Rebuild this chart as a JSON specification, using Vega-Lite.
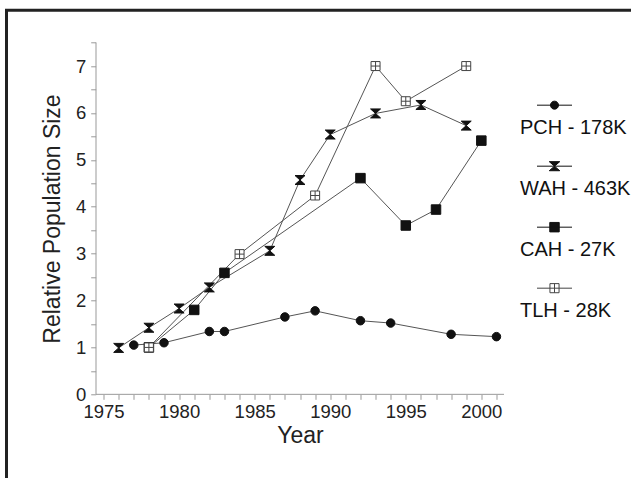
{
  "$schema": "https://vega.github.io/schema/vega-lite/v6.json",
  "width": 639.5,
  "height": 482.7,
  "autosize": {"type": "none"},
  "padding": {"left": 6.5, "top": 10.3, "right": -15, "bottom": -15},
  "background": "white",
  "config": {"view": {"stroke": "#222", "strokeWidth": 3}, "font": "Liberation Sans", "axis": {"labelOverlap": false, "labelFlush": false}},
  "datasets": {
    "axisrow": [{"k": 1}],
    "pop": [
      {"series": "PCH - 178K", "year": 1977, "value": 1.05},
      {"series": "PCH - 178K", "year": 1979, "value": 1.10},
      {"series": "PCH - 178K", "year": 1982, "value": 1.34},
      {"series": "PCH - 178K", "year": 1983, "value": 1.34},
      {"series": "PCH - 178K", "year": 1987, "value": 1.65},
      {"series": "PCH - 178K", "year": 1989, "value": 1.78},
      {"series": "PCH - 178K", "year": 1992, "value": 1.57},
      {"series": "PCH - 178K", "year": 1994, "value": 1.52},
      {"series": "PCH - 178K", "year": 1998, "value": 1.28},
      {"series": "PCH - 178K", "year": 2001, "value": 1.23},
      {"series": "WAH - 463K", "year": 1976, "value": 0.99},
      {"series": "WAH - 463K", "year": 1978, "value": 1.42},
      {"series": "WAH - 463K", "year": 1980, "value": 1.83},
      {"series": "WAH - 463K", "year": 1982, "value": 2.28},
      {"series": "WAH - 463K", "year": 1986, "value": 3.06},
      {"series": "WAH - 463K", "year": 1988, "value": 4.57},
      {"series": "WAH - 463K", "year": 1990, "value": 5.54},
      {"series": "WAH - 463K", "year": 1993, "value": 5.99},
      {"series": "WAH - 463K", "year": 1996, "value": 6.17},
      {"series": "WAH - 463K", "year": 1999, "value": 5.73},
      {"series": "CAH - 27K", "year": 1978, "value": 1.0},
      {"series": "CAH - 27K", "year": 1981, "value": 1.80},
      {"series": "CAH - 27K", "year": 1983, "value": 2.59},
      {"series": "CAH - 27K", "year": 1992, "value": 4.61},
      {"series": "CAH - 27K", "year": 1995, "value": 3.60},
      {"series": "CAH - 27K", "year": 1997, "value": 3.94},
      {"series": "CAH - 27K", "year": 2000, "value": 5.41},
      {"series": "TLH - 28K", "year": 1978, "value": 1.0},
      {"series": "TLH - 28K", "year": 1984, "value": 2.99},
      {"series": "TLH - 28K", "year": 1989, "value": 4.24},
      {"series": "TLH - 28K", "year": 1993, "value": 7.0},
      {"series": "TLH - 28K", "year": 1995, "value": 6.25},
      {"series": "TLH - 28K", "year": 1999, "value": 7.0}
    ]
  },
  "layer": [
    {
      "data": {"name": "axisrow"},
      "mark": {"type": "rule", "color": "#999", "strokeWidth": 1},
      "encoding": {
        "x": {
          "datum": 1974.5, "type": "quantitative",
          "scale": {"domain": [1968.577, 2010.897], "nice": false, "zero": false},
          "axis": {
            "title": "Year",
            "values": [1975,1976,1977,1978,1979,1980,1981,1982,1983,1984,1985,1986,1987,1988,1989,1990,1991,1992,1993,1994,1995,1996,1997,1998,1999,2000,2001],
            "format": "d",
            "labelExpr": "datum.value % 5 === 0 ? datum.label : ''",
            "offset": -98.7,
            "domain": false, "grid": false,
            "tickSize": 5, "tickColor": "#999", "tickWidth": 1,
            "labelFontSize": 18.5, "labelColor": "#222", "labelPadding": 3,
            "labelOverlap": false, "labelFlush": false,
            "titleFontSize": 23, "titleFontWeight": "normal", "titleColor": "#222",
            "titleX": 293.5, "titleY": 48, "titleBaseline": "alphabetic"
          }
        },
        "x2": {"datum": 2001.5},
        "y": {
          "datum": 0, "type": "quantitative",
          "scale": {"domain": [-2.104, 8.189], "nice": false, "zero": false},
          "axis": {
            "title": "Relative Population Size",
            "values": [0,0.5,1,1.5,2,2.5,3,3.5,4,4.5,5,5.5,6,6.5,7,7.5],
            "format": ".1f",
            "labelExpr": "datum.value % 1 === 0 ? format(datum.value, 'd') : ''",
            "offset": -89.2,
            "domain": false, "grid": false,
            "tickSize": 5, "tickColor": "#999", "tickWidth": 1,
            "labelFontSize": 18.5, "labelColor": "#222", "labelPadding": 5,
            "labelOverlap": false, "labelFlush": false,
            "titleFontSize": 23, "titleFontWeight": "normal", "titleColor": "#222",
            "titleX": -36.2, "titleY": 208.2, "titleBaseline": "alphabetic", "titleAlign": "center"
          }
        }
      }
    },
    {
      "data": {"name": "axisrow"},
      "mark": {"type": "rule", "color": "#999", "strokeWidth": 1},
      "encoding": {
        "x": {
          "datum": 1974.5, "type": "quantitative",
          "scale": {"domain": [1968.577, 2010.897], "nice": false, "zero": false},
          "axis": {
            "title": "Year",
            "values": [1975,1976,1977,1978,1979,1980,1981,1982,1983,1984,1985,1986,1987,1988,1989,1990,1991,1992,1993,1994,1995,1996,1997,1998,1999,2000,2001],
            "format": "d",
            "labelExpr": "datum.value % 5 === 0 ? datum.label : ''",
            "offset": -98.7,
            "domain": false, "grid": false,
            "tickSize": 5, "tickColor": "#999", "tickWidth": 1,
            "labelFontSize": 18.5, "labelColor": "#222", "labelPadding": 3,
            "labelOverlap": false, "labelFlush": false,
            "titleFontSize": 23, "titleFontWeight": "normal", "titleColor": "#222",
            "titleX": 293.5, "titleY": 48, "titleBaseline": "alphabetic"
          }
        },
        "y": {
          "datum": 0, "type": "quantitative",
          "scale": {"domain": [-2.104, 8.189], "nice": false, "zero": false},
          "axis": {
            "title": "Relative Population Size",
            "values": [0,0.5,1,1.5,2,2.5,3,3.5,4,4.5,5,5.5,6,6.5,7,7.5],
            "format": ".1f",
            "labelExpr": "datum.value % 1 === 0 ? format(datum.value, 'd') : ''",
            "offset": -89.2,
            "domain": false, "grid": false,
            "tickSize": 5, "tickColor": "#999", "tickWidth": 1,
            "labelFontSize": 18.5, "labelColor": "#222", "labelPadding": 5,
            "labelOverlap": false, "labelFlush": false,
            "titleFontSize": 23, "titleFontWeight": "normal", "titleColor": "#222",
            "titleX": -36.2, "titleY": 208.2, "titleBaseline": "alphabetic", "titleAlign": "center"
          }
        },
        "y2": {"datum": 7.5}
      }
    },
    {
      "data": {"name": "pop"},
      "encoding": {
        "x": {
          "field": "year", "type": "quantitative",
          "scale": {"domain": [1968.577, 2010.897], "nice": false, "zero": false},
          "axis": {
            "title": "Year",
            "values": [1975,1976,1977,1978,1979,1980,1981,1982,1983,1984,1985,1986,1987,1988,1989,1990,1991,1992,1993,1994,1995,1996,1997,1998,1999,2000,2001],
            "format": "d",
            "labelExpr": "datum.value % 5 === 0 ? datum.label : ''",
            "offset": -98.7,
            "domain": false, "grid": false,
            "tickSize": 5, "tickColor": "#999", "tickWidth": 1,
            "labelFontSize": 18.5, "labelColor": "#222", "labelPadding": 3,
            "labelOverlap": false, "labelFlush": false,
            "titleFontSize": 23, "titleFontWeight": "normal", "titleColor": "#222",
            "titleX": 293.5, "titleY": 48, "titleBaseline": "alphabetic"
          }
        },
        "y": {
          "field": "value", "type": "quantitative",
          "scale": {"domain": [-2.104, 8.189], "nice": false, "zero": false},
          "axis": {
            "title": "Relative Population Size",
            "values": [0,0.5,1,1.5,2,2.5,3,3.5,4,4.5,5,5.5,6,6.5,7,7.5],
            "format": ".1f",
            "labelExpr": "datum.value % 1 === 0 ? format(datum.value, 'd') : ''",
            "offset": -89.2,
            "domain": false, "grid": false,
            "tickSize": 5, "tickColor": "#999", "tickWidth": 1,
            "labelFontSize": 18.5, "labelColor": "#222", "labelPadding": 5,
            "labelOverlap": false, "labelFlush": false,
            "titleFontSize": 23, "titleFontWeight": "normal", "titleColor": "#222",
            "titleX": -36.2, "titleY": 208.2, "titleBaseline": "alphabetic", "titleAlign": "center"
          }
        }
      },
      "resolve": {"scale": {"shape": "independent", "fill": "independent", "stroke": "independent"}},
      "layer": [
        {
          "mark": {"type": "line", "color": "#555", "strokeWidth": 1},
          "encoding": {"detail": {"field": "series"}}
        },
        {
          "mark": {"type": "point", "filled": true, "size": 100, "strokeWidth": 1, "opacity": 1},
          "encoding": {
            "shape": {
              "field": "series", "type": "nominal", "legend": null,
              "scale": {
                "domain": ["PCH - 178K", "WAH - 463K", "CAH - 27K", "TLH - 28K"],
                "range": [
                  "M-0.85,0A0.85,0.85 0 1,0 0.85,0A0.85,0.85 0 1,0 -0.85,0Z",
                  "M-1,-0.9H1L0,0ZM-1,0.9H1L0,0Z",
                  "M-0.95,-0.95H0.95V0.95H-0.95Z",
                  "M-0.9,-0.9H0.9V0.9H-0.9ZM0,-0.9V0.9M-0.9,0H0.9"
                ]
              }
            },
            "fill": {
              "field": "series", "type": "nominal", "legend": null,
              "scale": {"domain": ["PCH - 178K", "WAH - 463K", "CAH - 27K", "TLH - 28K"], "range": ["#111", "#111", "#111", "white"]}
            },
            "stroke": {
              "field": "series", "type": "nominal", "legend": null,
              "scale": {"domain": ["PCH - 178K", "WAH - 463K", "CAH - 27K", "TLH - 28K"], "range": ["#111", "#111", "#111", "#444"]}
            }
          }
        },
        {
          "transform": [{"filter": "false"}],
          "mark": {"type": "point", "filled": true, "strokeWidth": 1, "opacity": 1},
          "encoding": {
            "shape": {
              "field": "series", "type": "nominal",
              "scale": {
                "domain": ["PCH - 178K", "WAH - 463K", "CAH - 27K", "TLH - 28K"],
                "range": [
                  "M-1,-0.75H1M-0.23,-0.75A0.23,0.23 0 1,0 0.23,-0.75A0.23,0.23 0 1,0 -0.23,-0.75Z",
                  "M-1,-0.75H1M-0.3,-1.01H0.3L0,-0.75ZM-0.3,-0.49H0.3L0,-0.75Z",
                  "M-1,-0.75H1M-0.27,-1.02H0.27V-0.48H-0.27Z",
                  "M-1,-0.75H-0.26M0.26,-0.75H1M-0.26,-1.01H0.26V-0.49H-0.26ZM0,-1.01V-0.49M-0.26,-0.75H0.26"
                ]
              },
              "legend": {
                "title": null, "orient": "none", "legendX": 496, "legendY": 90,
                "padding": 0, "rowPadding": 21,
                "symbolSize": 1225, "symbolStrokeWidth": 1, "symbolOffset": 34, "symbolOpacity": 1,
                "labelOffset": -52.5, "labelBaseline": "top", "labelAlign": "left",
                "labelFontSize": 20, "labelColor": "#111", "labelLimit": 300
              }
            },
            "fill": {
              "field": "series", "type": "nominal",
              "scale": {"domain": ["PCH - 178K", "WAH - 463K", "CAH - 27K", "TLH - 28K"], "range": ["#111", "#111", "#111", "white"]},
              "legend": {
                "title": null, "orient": "none", "legendX": 496, "legendY": 90,
                "padding": 0, "rowPadding": 21,
                "symbolSize": 1225, "symbolStrokeWidth": 1, "symbolOffset": 34, "symbolOpacity": 1,
                "labelOffset": -52.5, "labelBaseline": "top", "labelAlign": "left",
                "labelFontSize": 20, "labelColor": "#111", "labelLimit": 300
              }
            },
            "stroke": {
              "field": "series", "type": "nominal",
              "scale": {"domain": ["PCH - 178K", "WAH - 463K", "CAH - 27K", "TLH - 28K"], "range": ["#111", "#111", "#111", "#444"]},
              "legend": {
                "title": null, "orient": "none", "legendX": 496, "legendY": 90,
                "padding": 0, "rowPadding": 21,
                "symbolSize": 1225, "symbolStrokeWidth": 1, "symbolOffset": 34, "symbolOpacity": 1,
                "labelOffset": -52.5, "labelBaseline": "top", "labelAlign": "left",
                "labelFontSize": 20, "labelColor": "#111", "labelLimit": 300
              }
            }
          }
        }
      ]
    }
  ]
}
